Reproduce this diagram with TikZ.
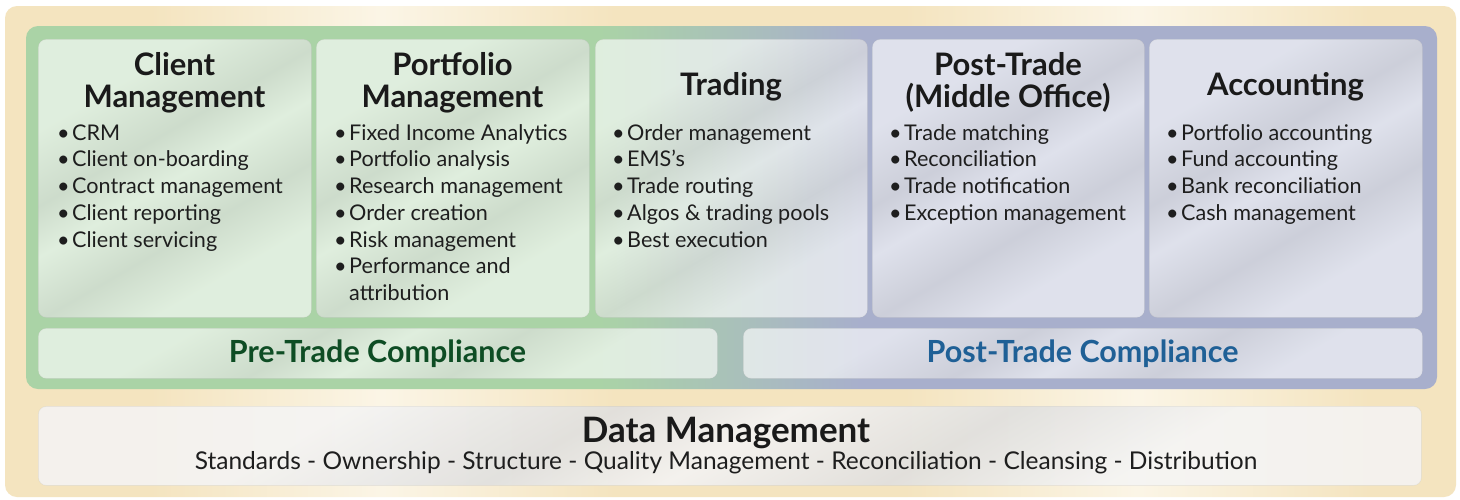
\documentclass[tikz,border=0pt]{standalone}
\usepackage{fontspec}
\setmainfont{Lato}
\definecolor{cream}{HTML}{F4E4BF}
\definecolor{creamlt}{HTML}{FBF5E6}
\definecolor{bandgreen}{HTML}{AAD3A6}
\definecolor{bandblue}{HTML}{A8AFCC}
\definecolor{titlec}{HTML}{1A1A1A}
\definecolor{textc}{HTML}{1E1E1E}
\definecolor{pregreen}{HTML}{0E4D24}
\definecolor{postblue}{HTML}{1F6096}
\definecolor{streakd}{HTML}{9A9A9A}
\pgfdeclarehorizontalshading{bandshade}{100bp}{color(0bp)=(bandgreen); color(45.3bp)=(bandgreen); color(54.6bp)=(bandblue); color(100bp)=(bandblue)}
\pgfdeclarehorizontalshading{creamshade}{100bp}{color(0bp)=(cream); color(30bp)=(cream); color(38bp)=(creamlt); color(46bp)=(cream); color(56bp)=(cream); color(64bp)=(creamlt); color(72bp)=(cream); color(100bp)=(cream)}
\pgfdeclarehorizontalshading{streak}{100bp}{color(0bp)=(white); color(30bp)=(white); color(42bp)=(streakd); color(50bp)=(white); color(60bp)=(streakd); color(70bp)=(white); color(100bp)=(white)}
\begin{document}
\begin{tikzpicture}[x=1pt,y=-1pt,
  panel/.style={rounded corners=8pt, fill=white, fill opacity=0.56, draw=black!25, draw opacity=0.25, line width=0.8pt, inner sep=0pt, anchor=north west,
    postaction={shading=streak, shading angle=-60, fill opacity=0.18}},
  ttl/.style={anchor=base, font=\bfseries\fontsize{31}{34}\selectfont, text=titlec, inner sep=0pt},
  itm/.style={anchor=base west, font=\fontsize{21.6}{24}\selectfont, text=textc, inner sep=0pt},
  comp/.style={anchor=base, font=\bfseries\fontsize{30.5}{33}\selectfont, inner sep=0pt},
]
\useasboundingbox (0,0) rectangle (1460,499);
\fill[white] (0,0) rectangle (1460,499);
\path[rounded corners=12pt, shading=creamshade] (5,6) rectangle (1456,497);
\path[rounded corners=12pt, shading=bandshade] (26,26) rectangle (1437,389);
% panels
\node[panel, minimum width=273pt, minimum height=278pt] (cm) at (38,39) {};
\node[panel, minimum width=273pt, minimum height=278pt] (pm) at (316,39) {};
\node[panel, minimum width=272pt, minimum height=278pt] (tr) at (595,39) {};
\node[panel, minimum width=272pt, minimum height=278pt] (pt) at (872,39) {};
\node[panel, minimum width=273pt, minimum height=278pt] (ac) at (1149,39) {};
\node[panel, minimum width=679pt, minimum height=50pt] (pre) at (38,328) {};
\node[panel, minimum width=679pt, minimum height=50pt] (post) at (743,328) {};
\node[panel, minimum width=1383pt, minimum height=79pt, fill=black!5, fill opacity=0.85] (dm) at (38,406) {};
% titles
\node[ttl] (cmt1) at (174.5,75) {Client};
\node[ttl] (cmt2) at (174.5,107) {Management};
\node[ttl] (pmt1) at (452.5,75) {Portfolio};
\node[ttl] (pmt2) at (452.5,107) {Management};
\node[ttl] (trt) at (731,95) {Trading};
\node[ttl] (ptt1) at (1008,75) {Post-Trade};
\node[ttl] (ptt2) at (1008,107) {(Middle Office)};
\node[ttl] (act) at (1285.5,95) {Accounting};
% items
\newcommand{\bl}{\makebox[15pt][l]{•}}
\newcommand{\nb}{\hspace*{15pt}}
\foreach \txt [count=\i] in {CRM, Client on-boarding, Contract management, Client reporting, Client servicing}
  \node[itm] (cmi\i) at (57,140+26.75*\i-26.75) {\bl\txt};
\foreach \txt [count=\i] in {Fixed Income Analytics, Portfolio analysis, Research management, Order creation, Risk management, Performance and}
  \node[itm] (pmi\i) at (334,140+26.75*\i-26.75) {\bl\txt};
\node[itm] (pmi7) at (334,300.5) {\nb attribution};
\foreach \txt [count=\i] in {Order management, EMS’s, Trade routing, Algos \& trading pools, Best execution}
  \node[itm] (tri\i) at (612,140+26.75*\i-26.75) {\bl\txt};
\foreach \txt [count=\i] in {Trade matching, Reconciliation, Trade notification, Exception management}
  \node[itm] (pti\i) at (889,140+26.75*\i-26.75) {\bl\txt};
\foreach \txt [count=\i] in {Portfolio accounting, Fund accounting, Bank reconciliation, Cash management}
  \node[itm] (aci\i) at (1166,140+26.75*\i-26.75) {\bl\txt};
% compliance
\node[comp, text=pregreen] (pret) at (377.5,362) {Pre-Trade Compliance};
\node[comp, text=postblue] (postt) at (1082.5,362) {Post-Trade Compliance};
% data management
\node[anchor=base, font=\bfseries\fontsize{35}{38}\selectfont, text=titlec, inner sep=0pt] (dmt) at (726,442) {Data Management};
\node[anchor=base, font=\fontsize{24.5}{27}\selectfont, text=textc, inner sep=0pt] (dms) at (726,469) {Standards - Ownership - Structure - Quality Management - Reconciliation - Cleansing - Distribution};
\end{tikzpicture}
\end{document}
